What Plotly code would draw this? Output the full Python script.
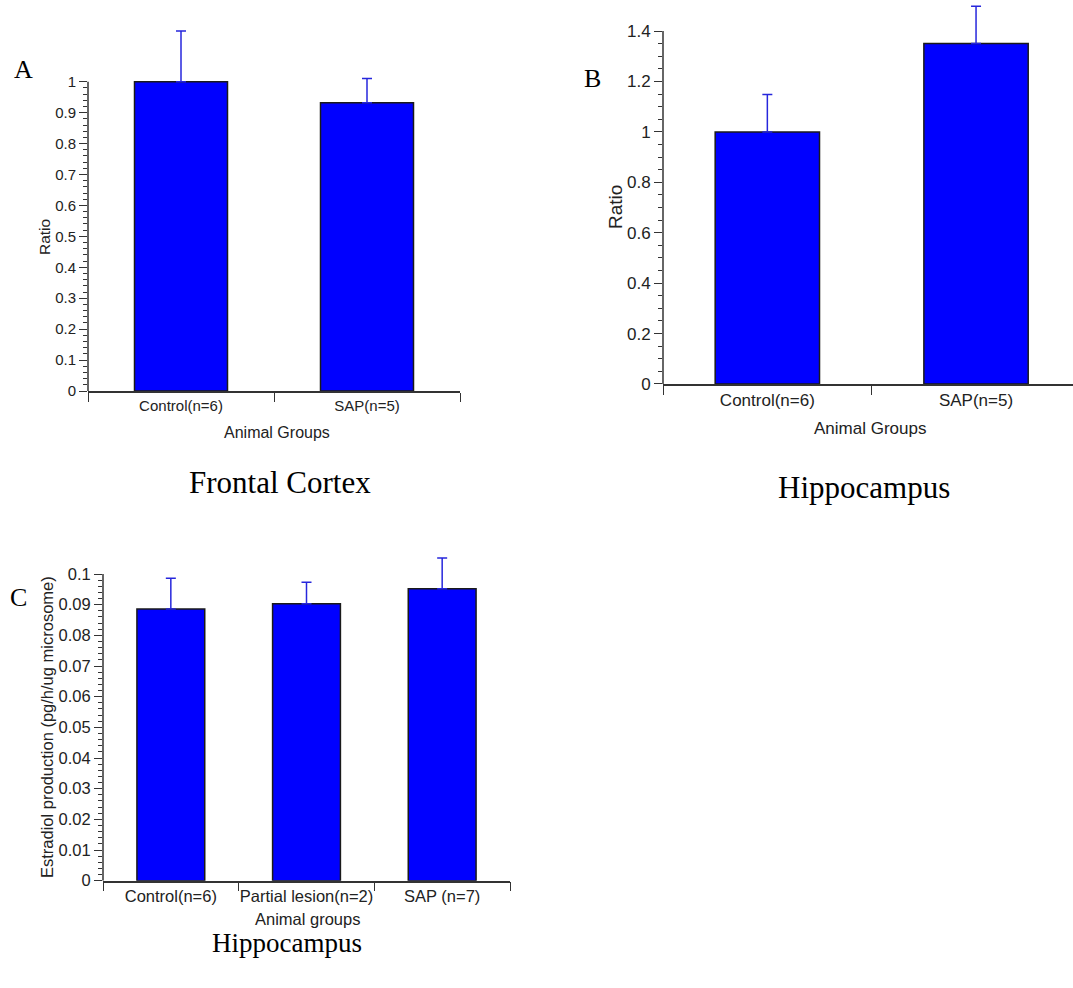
import plotly.graph_objects as go

# Panel A: frontal cortex ratio
groups_a = ["Control(n=6)", "SAP(n=5)"]
ratio_a = [1.0, 0.932]
err_a = [0.164, 0.078]

# Panel B: hippocampus ratio
groups_b = ["Control(n=6)", "SAP(n=5)"]
ratio_b = [1.0, 1.351]
err_b = [0.148, 0.147]

# Panel C: hippocampal estradiol production
groups_c = ["Control(n=6)", "Partial lesion(n=2)", "SAP (n=7)"]
estradiol_c = [0.0886, 0.0903, 0.0952]
err_c = [0.0100, 0.0070, 0.0100]

W, H = 1073, 988
BAR_FILL = "#0000ff"
BAR_EDGE = "#1a1a1a"
ERR_COLOR = "#2626dc"
AXIS_COLOR = "#333333"
TEXT_COLOR = "#222222"
SANS = "Liberation Sans, Arial, sans-serif"
SERIF = "Liberation Serif, Times New Roman, serif"


def px_x(x):
    return x / W


def px_y(y):
    return 1 - y / H


def bar_trace(cats, vals, errs, xa, ya):
    return go.Bar(
        x=cats, y=vals, xaxis=xa, yaxis=ya, width=0.5,
        marker=dict(color=BAR_FILL, line=dict(color=BAR_EDGE, width=1.5)),
        error_y=dict(type="data", symmetric=False, array=errs,
                     arrayminus=[0] * len(errs), color=ERR_COLOR,
                     thickness=1.5, width=5),
        showlegend=False, hoverinfo="skip",
    )


fig = go.Figure()
fig.add_trace(bar_trace(groups_a, ratio_a, err_a, "x", "y"))
fig.add_trace(bar_trace(groups_b, ratio_b, err_b, "x2", "y2"))
fig.add_trace(bar_trace(groups_c, estradiol_c, err_c, "x3", "y3"))


def xaxis(left_px, right_px, rng, size, anchor):
    return dict(
        domain=[px_x(left_px), min(1.0, px_x(right_px))], range=rng,
        anchor=anchor, type="category",
        showline=True, linecolor=AXIS_COLOR, linewidth=1.5,
        ticks="outside", tickson="boundaries", ticklen=9,
        tickcolor=AXIS_COLOR, tickwidth=1.2, tickangle=0,
        tickfont=dict(family=SANS, size=size, color=TEXT_COLOR),
        showgrid=False, zeroline=False, fixedrange=True, automargin=False,
    )


def yaxis(zero_px, px_per_unit, axis_top, view_top, dtick, minor_dtick,
          size, anchor, decimals):
    """Value axis whose visible line stops at axis_top while the plotting
    range reaches view_top, so error bars above the last tick stay visible."""
    top_px = zero_px - view_top * px_per_unit
    n_major = int(round(axis_top / dtick))
    n_minor = int(round(axis_top / minor_dtick))
    major = [round(i * dtick, 6) for i in range(n_major + 1)]
    minor = [round(i * minor_dtick, 6) for i in range(n_minor + 1)]
    labels = [("%.*f" % (decimals, v)).rstrip("0").rstrip(".") if v else "0"
              for v in major]
    return dict(
        domain=[px_y(zero_px), px_y(top_px)], range=[0, view_top],
        anchor=anchor, showline=False,
        ticks="outside", ticklen=8, tickcolor=AXIS_COLOR, tickwidth=1.2,
        tickmode="array", tickvals=major, ticktext=labels,
        minor=dict(tickmode="array", tickvals=minor, ticks="outside",
                   ticklen=4, tickcolor=AXIS_COLOR, tickwidth=1,
                   showgrid=False),
        tickfont=dict(family=SANS, size=size, color=TEXT_COLOR),
        showgrid=False, zeroline=False, fixedrange=True, automargin=False,
    )


fig.update_layout(
    template="none",
    width=W, height=H, margin=dict(l=0, r=0, t=0, b=0, pad=0),
    paper_bgcolor="white", plot_bgcolor="rgba(0,0,0,0)",
    xaxis=xaxis(88, 460, [-0.5, 1.5], 15, "y"),
    yaxis=yaxis(391, 309.3, 1.0, 1.2, 0.1, 0.02, 15, "x", 1),
    xaxis2=xaxis(663, 1073, [-0.5, 1.4646], 17, "y2"),
    yaxis2=yaxis(384, 252.1, 1.4, 1.52, 0.2, 0.05, 17, "x2", 1),
    xaxis3=xaxis(103, 510, [-0.5, 2.5], 16.5, "y3"),
    yaxis3=yaxis(880.7, 3067, 0.1, 0.108, 0.01, 0.002, 16.5, "x3", 2),
)

# vertical axis lines, ending at the top tick of each panel
for xr, yr, top in (("x", "y", 1.0), ("x2", "y2", 1.4), ("x3", "y3", 0.1)):
    fig.add_shape(type="line", xref=f"{xr} domain", yref=yr,
                  x0=0, x1=0, y0=0, y1=top, layer="above",
                  line=dict(color=AXIS_COLOR, width=1.5))


def label(text, x, y, size, family=SANS, angle=0, color=TEXT_COLOR):
    fig.add_annotation(
        text=text, x=px_x(x), y=px_y(y), xref="paper", yref="paper",
        showarrow=False, textangle=angle, xanchor="center", yanchor="middle",
        font=dict(family=family, size=size, color=color),
    )


# axis titles
label("Ratio", 45, 237, 15.5, angle=-90)
label("Animal Groups", 277, 432, 16)
label("Ratio", 615, 207, 19, angle=-90)
label("Animal Groups", 870, 428, 17)
label("Estradiol production (pg/h/ug microsome)", 47, 727, 16.5, angle=-90)
label("Animal groups", 307, 919, 16.5)

# panel letters and region captions
label("A", 23, 70, 26, family=SERIF, color="#000000")
label("B", 592, 78, 26, family=SERIF, color="#000000")
label("C", 18, 597, 26, family=SERIF, color="#000000")
label("Frontal Cortex", 280, 482, 31, family=SERIF, color="#000000")
label("Hippocampus", 864, 487, 31, family=SERIF, color="#000000")
label("Hippocampus", 287, 943, 27, family=SERIF, color="#000000")

fig.write_html("out.html")
